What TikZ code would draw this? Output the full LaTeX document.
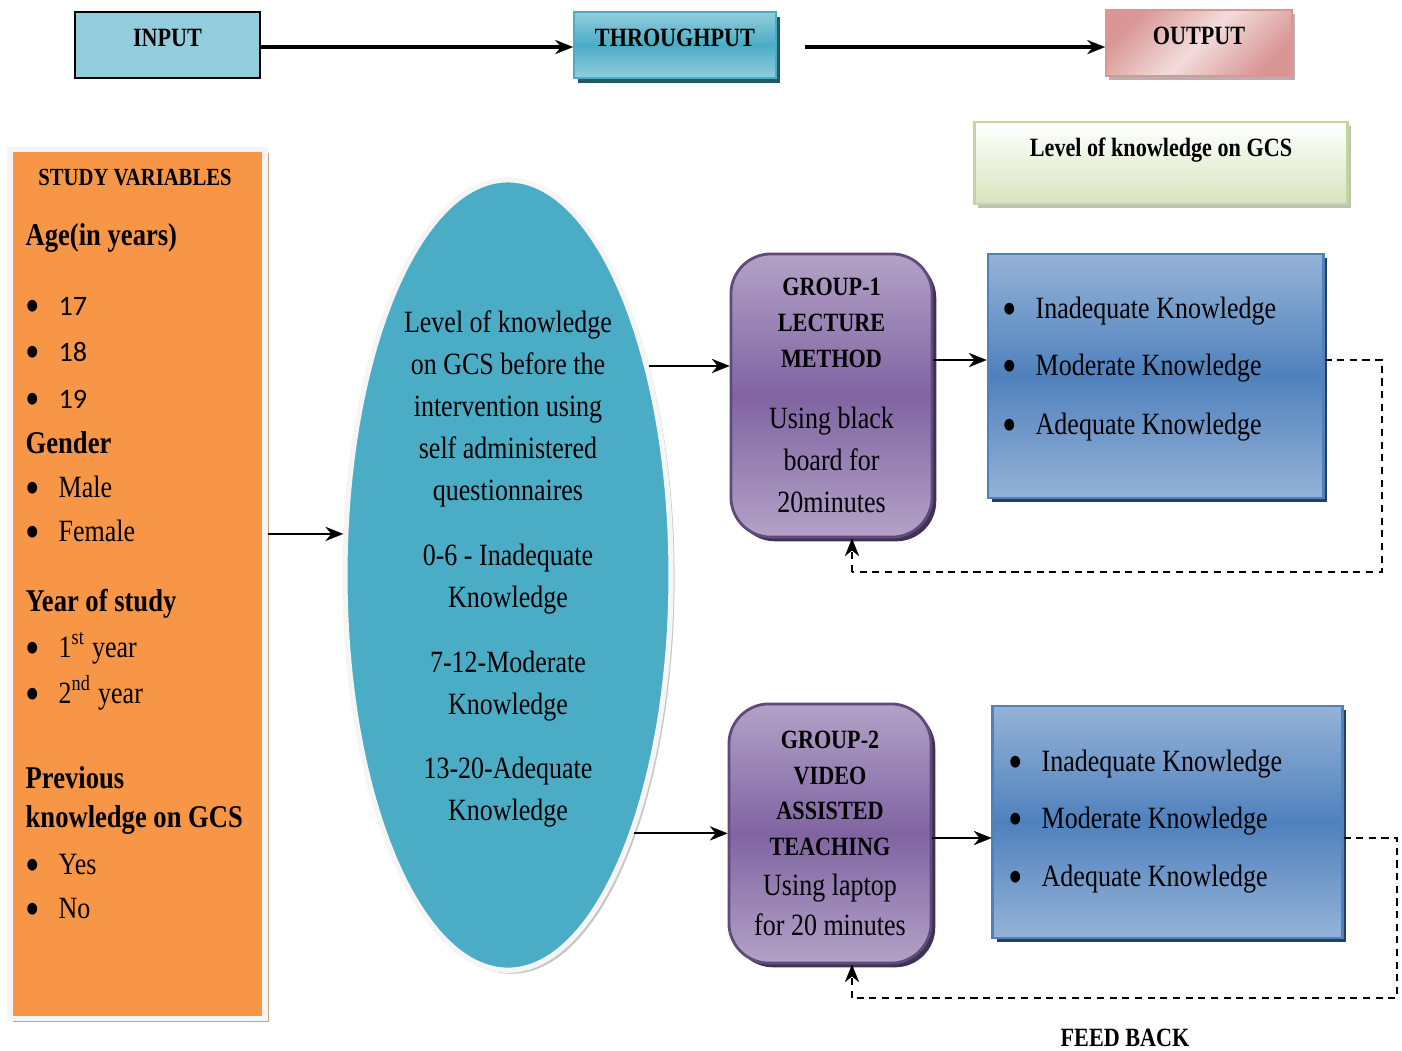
\documentclass[tikz,border=0pt]{standalone}
\usepackage{fontspec}
\setmainfont{Liberation Serif}[FakeStretch=0.84]
\newfontfamily\calfont{Carlito}
\usepackage{xcolor}
\usetikzlibrary{shapes.geometric,shadows,arrows.meta}

\definecolor{inblue}{HTML}{93CDDD}
\definecolor{thrlt}{HTML}{93CDDD}
\definecolor{thrdk}{HTML}{4BACC6}
\definecolor{thrsh}{HTML}{215968}
\definecolor{pinkdk}{HTML}{D99694}
\definecolor{pinklt}{HTML}{F2DCDB}
\definecolor{grnlt}{HTML}{FFFFFF}
\definecolor{grndk}{HTML}{D7E4BD}
\definecolor{grnedge}{HTML}{C3D69B}
\definecolor{svorange}{HTML}{F79646}
\definecolor{svsh}{HTML}{C8A27F}
\definecolor{preblue}{HTML}{4BACC6}
\definecolor{grplt}{HTML}{B3A2C7}
\definecolor{grpdk}{HTML}{8064A2}
\definecolor{grpedge}{HTML}{604A7B}
\definecolor{grpsh}{HTML}{3F3151}
\definecolor{reslt}{HTML}{95B3D7}
\definecolor{resdk}{HTML}{4F81BD}
\definecolor{ressh}{HTML}{243F60}

\newcommand{\bul}{\makebox[0.33cm][l]{\raisebox{-2pt}[0pt][0pt]{\fontsize{14}{14}\selectfont\textbullet}}}
\newcommand{\up}[1]{\raisebox{2pt}[\height][\depth]{#1}}

\begin{document}
\begin{tikzpicture}[x=0.01cm,y=-0.01cm,
  hd/.style={font=\fontsize{7.5}{10.2}\selectfont\bfseries,inner sep=0pt,align=center},
  grp/.style={draw=grpedge,line width=0.8pt,rounded corners=0.4cm,top color=grplt,
              bottom color=grplt,middle color=grpdk,inner sep=0pt,align=center,
              font=\fontsize{8.8}{10.2}\selectfont,
              drop shadow={shadow xshift=1.2pt,shadow yshift=-1.2pt,fill=grpsh,opacity=1}},
  res/.style={draw=resdk,line width=0.8pt,top color=reslt,bottom color=reslt,
              middle color=resdk,inner sep=0pt,
              drop shadow={shadow xshift=1.2pt,shadow yshift=-1.2pt,fill=ressh,opacity=1}},
  li/.style={anchor=west,inner sep=0pt,font=\fontsize{8.8}{10}\selectfont},
  hv/.style={anchor=west,inner sep=0pt,font=\fontsize{9}{10}\selectfont\bfseries},
  a/.style={-{Stealth[length=5pt,width=4pt,line width=0.01pt]},line width=0.6pt},
  d/.style={dash pattern=on 2pt off 1.6pt,line width=0.5pt}
]
\useasboundingbox (0,0) rectangle (1402,1050);

% top row
\node[hd,draw=black,line width=0.8pt,fill=inblue,minimum width=1.85cm,minimum height=0.66cm]
  (inp) at (167.5,45) {\up{INPUT}};
\node[hd,draw=thrdk,line width=0.6pt,top color=thrlt,bottom color=thrlt,middle color=thrdk,
  minimum width=2.02cm,minimum height=0.66cm,
  drop shadow={shadow xshift=1.2pt,shadow yshift=-1.5pt,fill=thrsh,opacity=1}]
  (thr) at (675,45) {\up{THROUGHPUT}};
\node[hd,draw=pinkdk,line width=0.6pt,top color=pinkdk,bottom color=pinkdk,middle color=pinklt,
  shading angle=45,minimum width=1.86cm,minimum height=0.66cm,
  drop shadow={shadow xshift=0.8pt,shadow yshift=-1.2pt,fill=gray!60,opacity=1}]
  (out) at (1199,43) {\up{OUTPUT}};
\draw[a,line width=1pt] (inp.east |- 0,47) -- (thr.west |- 0,47);
\draw[a,line width=1pt,shorten <=8pt] (thr.east |- 0,47) -- (out.west |- 0,47);

\node[hd,draw=grnedge,line width=0.8pt,top color=grnlt,bottom color=grndk,
  minimum width=3.72cm,minimum height=0.82cm,
  drop shadow={shadow xshift=1pt,shadow yshift=-1.2pt,fill=gray!50,opacity=1}]
  (lvl) at (1161,163) {\raisebox{3.7pt}[\height][\depth]{Level of knowledge on GCS}};

% study variables
\node[draw=gray!8,line width=1.5pt,fill=svorange,minimum width=2.55cm,minimum height=8.68cm,
  drop shadow={shadow xshift=1pt,shadow yshift=-1pt,fill=svsh,opacity=1}]
  (sv) at (137.5,584) {};
\node[hd,font=\fontsize{7}{9}\selectfont\bfseries] (svt) at (135,178) {STUDY VARIABLES};
\node[hv] (age) at (25,238) {Age(in years)};
\foreach \y/\v in {306/17,352/18,399/19}
  \node[li] (age\v) at (25,\y) {\bul{\calfont\fontsize{8}{9}\selectfont\v}};
\node[hv] (gen) at (25,443) {Gender};
\node[li] (male) at (25,487) {\bul Male};
\node[li] (fem) at (25,531) {\bul Female};
\node[hv] (yos) at (25,604) {Year of study};
\node[li] (yr1) at (25,648) {\bul 1\textsuperscript{st} year};
\node[li] (yr2) at (25,693) {\bul 2\textsuperscript{nd} year};
\node[hv] (prev) at (25,778) {Previous};
\node[hv] (prevk) at (25,820) {knowledge on GCS};
\node[li] (yes) at (25,864) {\bul Yes};
\node[li] (no) at (25,908) {\bul No};

% pre test
\node[ellipse,draw=gray!8,line width=1.5pt,fill=preblue,minimum width=3.26cm,
  minimum height=7.9cm,inner sep=0pt,
  drop shadow={shadow xshift=1pt,shadow yshift=-1pt,fill=gray!45,opacity=1}]
  (pre) at (508,575) {};
\node[inner sep=0pt,align=center,font=\fontsize{8.8}{11.95}\selectfont] (pretxt) at (508,569)
  {Level of knowledge\\on GCS before the\\intervention using\\self administered\\questionnaires\\[6.5pt]
   0-6 - Inadequate\\Knowledge\\[6.5pt]7-12-Moderate\\Knowledge\\[6.5pt]13-20-Adequate\\Knowledge};
\draw[a] (sv.east |- pre.166.5) -- (pre.166.5);

% groups
\node[grp,minimum width=2.01cm,minimum height=2.83cm] (g1) at (831.5,395.5)
  {{\bfseries\fontsize{7.5}{10.2}\selectfont GROUP-1}\\{\bfseries\fontsize{7.5}{10.2}\selectfont LECTURE}\\
   {\bfseries\fontsize{7.5}{10.2}\selectfont METHOD}\\[7.4pt]Using black\\[1.75pt]board for\\[1.75pt]20minutes};
\node[grp,minimum width=2.02cm,minimum height=2.59cm] (g2) at (830,833.5)
  {{\bfseries\fontsize{7.5}{10.2}\selectfont GROUP-2}\\{\bfseries\fontsize{7.5}{10.2}\selectfont VIDEO}\\
   {\bfseries\fontsize{7.5}{10.2}\selectfont ASSISTED}\\{\bfseries\fontsize{7.5}{10.2}\selectfont TEACHING}\\[1.2pt]
   Using laptop\\[1.2pt]for 20 minutes};
\draw[a] (pre.56.7) -- (pre.56.7 -| g1.west);
\draw[a] (pre.-64.3) -- (pre.-64.3 -| g2.west);

% results
\node[res,minimum width=3.35cm,minimum height=2.44cm] (r1) at (1155.5,376) {};
\foreach \k/\y/\s in {1/311/Inadequate,2/368/Moderate,3/427/Adequate}
  \node[li] (r1l\k) at (1002,\y) {\bul\s\ Knowledge};
\node[res,minimum width=3.49cm,minimum height=2.32cm] (r2) at (1167.5,822) {};
\foreach \k/\y/\s in {1/764/Inadequate,2/821/Moderate,3/879/Adequate}
  \node[li] (r2l\k) at (1008,\y) {\bul\s\ Knowledge};

% feed back
\coordinate (f1a) at (1382,360);
\coordinate (f1b) at (1382,572);
\coordinate (f1c) at (852,572);
\coordinate (f2a) at (1397,838);
\coordinate (f2b) at (1397,998);
\coordinate (f2c) at (852,998);
\draw[a] (g1.east |- f1a) -- (r1.west |- f1a);
\draw[a] (g2.east |- f2a) -- (r2.west |- f2a);
\draw[d] (r1.east |- f1a) -- (f1a) -- (f1b) -- (f1c);
\draw[d,a] (f1c) -- (f1c |- g1.south);
\draw[d] (r2.east |- f2a) -- (f2a) -- (f2b) -- (f2c);
\draw[d,a] (f2c) -- (f2c |- g2.south);
\node[hd] (fbk) at (1125,1038) {FEED BACK};
\end{tikzpicture}
\end{document}
